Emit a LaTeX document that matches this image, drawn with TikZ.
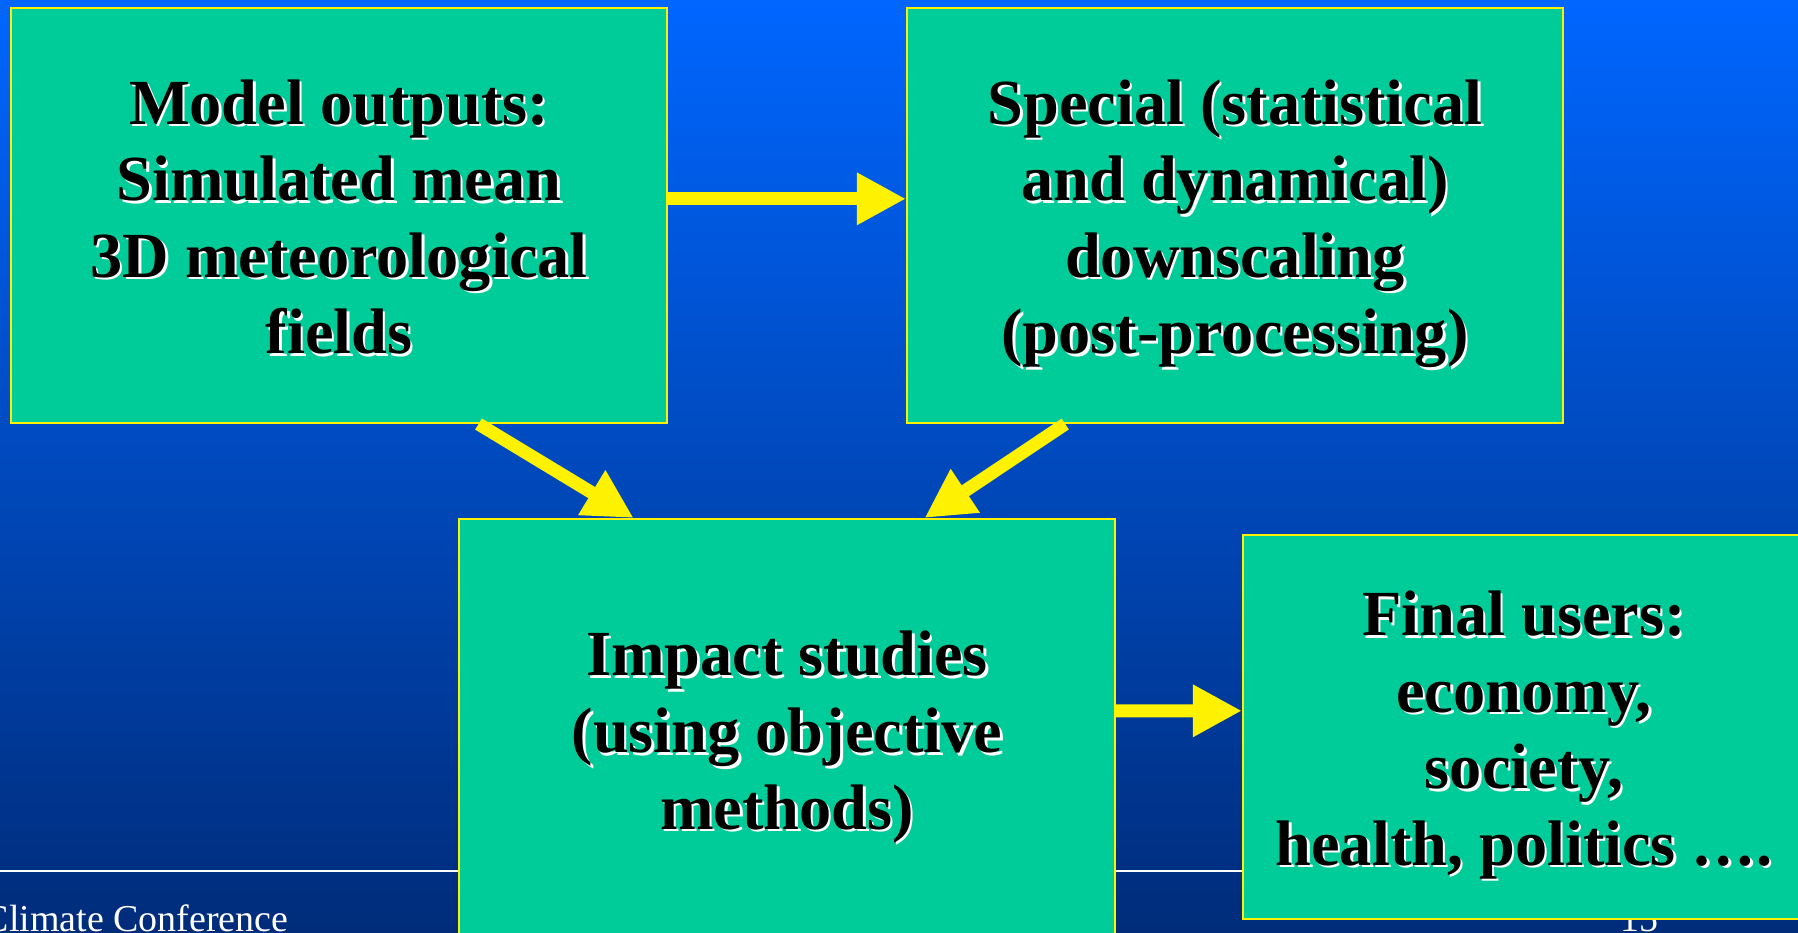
\documentclass[tikz,border=0pt]{standalone}
\usepackage{fontspec}
\setmainfont{Liberation Serif}
\usepackage{tikz}
\usetikzlibrary{arrows.meta,calc}

\definecolor{slidetop}{RGB}{0,102,255}
\definecolor{slidemid}{RGB}{0,82,206}
\definecolor{slidebot}{RGB}{0,44,122}
\definecolor{boxgreen}{RGB}{0,204,153}

% one line of black text with a white copy just below right of it
\newcommand{\shtxt}[1]{\rule[-4.2pt]{0pt}{21.8pt}\makebox[0pt][l]{\smash{\hspace{0.7pt}\raisebox{-0.7pt}{\color{white}#1}}}#1}

\begin{document}
\begin{tikzpicture}[
  box/.style={draw=yellow, line width=0.6pt, fill=boxgreen, inner sep=0pt,
    align=center, font=\fontsize{18.3}{21.8}\selectfont\bfseries},
  flow/.style={yellow, line width=3.7pt, -{Triangle[length=4.9mm,width=4.9mm]}},
  foot/.style={white, font=\fontsize{10.8}{13}\selectfont, inner sep=0pt, anchor=base west}]

\useasboundingbox (0,0) rectangle (17.98,-9.32);
\clip (0,0) rectangle (17.98,-9.32);
\shade[top color=slidetop, middle color=slidemid, bottom color=slidebot] (0,0) rectangle (17.98,-9.32);

%footer
\draw[white, line width=0.5pt] (0,-8.71) -- (17.98,-8.71);
\node[foot] (conf) at (-0.17,-9.31) {Climate Conference};
\node[foot] (page) at (16.2,-9.31) {15};

%top row
\node[box, minimum width=6.56cm, minimum height=4.15cm] (model) at (3.39,-2.155)
  {\shtxt{Model outputs:}\\ \shtxt{Simulated mean}\\ \shtxt{3D meteorological}\\ \shtxt{fields}};
\node[box, minimum width=6.56cm, minimum height=4.15cm] (special) at (12.35,-2.155)
  {\shtxt{Special (statistical}\\ \shtxt{and dynamical)}\\ \shtxt{downscaling}\\ \shtxt{(post-processing)}};

%bottom row
\node[box, minimum width=6.56cm, minimum height=4.2cm] (impact) at (7.87,-7.29)
  {\shtxt{Impact studies}\\ \shtxt{(using objective}\\ \shtxt{methods)}};
\node[box, minimum width=5.62cm, minimum height=3.84cm] (users) at (15.24,-7.27)
  {\shtxt{Final users:}\\ \shtxt{economy,}\\ \shtxt{society,}\\ \shtxt{health, politics ….}};

%arrows
\draw[flow] ($(model.north east)!0.46!(model.south east)$) -- ($(special.north west)!0.46!(special.south west)$);
\draw[flow] ($(model.south west)!0.712!(model.south east)$) -- ($(impact.north west)!0.267!(impact.north east)$);
\draw[flow] ($(special.south west)!0.242!(special.south east)$) -- ($(impact.north west)!0.709!(impact.north east)$);
\draw[flow] ($(impact.north east)!0.457!(impact.south east)$) -- ($(users.north west)!0.458!(users.south west)$);

\end{tikzpicture}
\end{document}
